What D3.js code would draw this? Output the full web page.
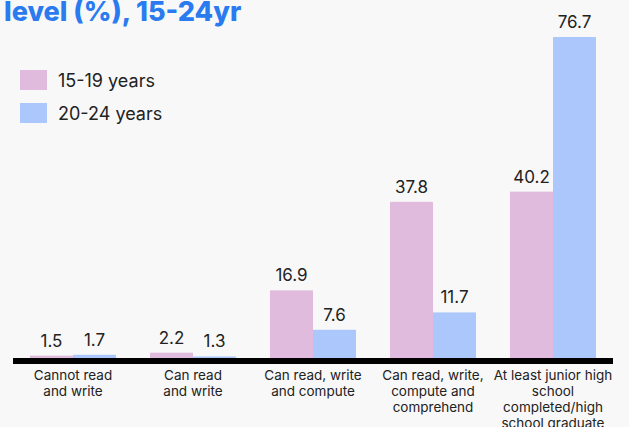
<!DOCTYPE html>
<html>
<head>
<meta charset="utf-8">
<script src="https://cdn.jsdelivr.net/npm/d3@7"></script>
<style>
  html, body { margin: 0; padding: 0; background: #f8f8f8; }
  svg { display: block; font-family: Inter, "Noto Sans", sans-serif; }
  .title { font-weight: 800; fill: #2a7bf0; font-size: 27px; }
  .legend text { font-size: 18px; fill: #222; }
  .value { font-size: 17px; fill: #222; text-anchor: middle; }
  .cat { font-size: 13.5px; fill: #222; text-anchor: middle; }
</style>
</head>
<body>
<svg id="chart" width="629" height="427"></svg>
<script>
  // categories, one line of the tick label per entry
  const categories = [
    ["Cannot read", "and write"],
    ["Can read", "and write"],
    ["Can read, write", "and compute"],
    ["Can read, write,", "compute and", "comprehend"],
    ["At least junior high", "school", "completed/high", "school graduate"]
  ];
  const seriesNames = ["15-19 years", "20-24 years"];
  const age15to19 = [1.5, 2.2, 16.9, 37.8, 40.2];
  const age20to24 = [1.7, 1.3, 7.6, 11.7, 76.7];
  const colors = ["#e0bbde", "#abc7fb"];

  const svg = d3.select('#chart');
  const keys = categories.map(c => c.join(' '));

  const x = d3.scaleBand()
    .domain(keys)
    .range([13, 613])
    .paddingInner(34 / 120)
    .paddingOuter(17 / 120);

  const x1 = d3.scaleBand()
    .domain(seriesNames)
    .range([0, x.bandwidth()]);

  const y = d3.scaleLinear()
    .domain([0, 76.7])
    .range([362, 37]);

  const color = d3.scaleOrdinal().domain(seriesNames).range(colors);

  // title (first line is above the visible area)
  svg.append('text')
    .attr('class', 'title')
    .attr('x', 4)
    .attr('y', 21)
    .text('level (%), 15-24yr');

  // legend
  const legend = svg.append('g').attr('class', 'legend')
    .selectAll('g').data(seriesNames).join('g')
    .attr('transform', (d, i) => `translate(20,${70 + i * 33})`);
  legend.append('rect')
    .attr('width', 27).attr('height', 20)
    .attr('fill', d => color(d));
  legend.append('text')
    .attr('x', 38).attr('y', 17)
    .text(d => d);

  const rows = keys.map((k, i) => ({
    key: k,
    vals: [
      {s: seriesNames[0], v: age15to19[i]},
      {s: seriesNames[1], v: age20to24[i]}
    ]
  }));

  const groups = svg.append('g').selectAll('g').data(rows).join('g')
    .attr('transform', d => `translate(${x(d.key)},0)`);

  groups.selectAll('rect').data(d => d.vals).join('rect')
    .attr('x', d => x1(d.s))
    .attr('y', d => y(d.v))
    .attr('width', x1.bandwidth())
    .attr('height', d => y(0) - y(d.v))
    .attr('fill', d => color(d.s));

  groups.selectAll('text.value').data(d => d.vals).join('text')
    .attr('class', 'value')
    .attr('x', d => x1(d.s) + x1.bandwidth() / 2)
    .attr('y', d => y(d.v) - 9)
    .text(d => d.v.toFixed(1));

  // baseline
  svg.append('line')
    .attr('x1', x.range()[0]).attr('x2', x.range()[1])
    .attr('y1', 361).attr('y2', 361)
    .attr('stroke', '#000').attr('stroke-width', 6);

  // category labels
  const cat = svg.append('g').selectAll('text').data(categories).join('text')
    .attr('class', 'cat')
    .attr('x', (d, i) => x(keys[i]) + x.bandwidth() / 2)
    .attr('y', 380);
  cat.selectAll('tspan').data(d => d).join('tspan')
    .attr('x', function() { return this.parentNode.getAttribute('x'); })
    .attr('dy', (d, i) => i === 0 ? 0 : 16)
    .text(d => d);
</script>
</body>
</html>
